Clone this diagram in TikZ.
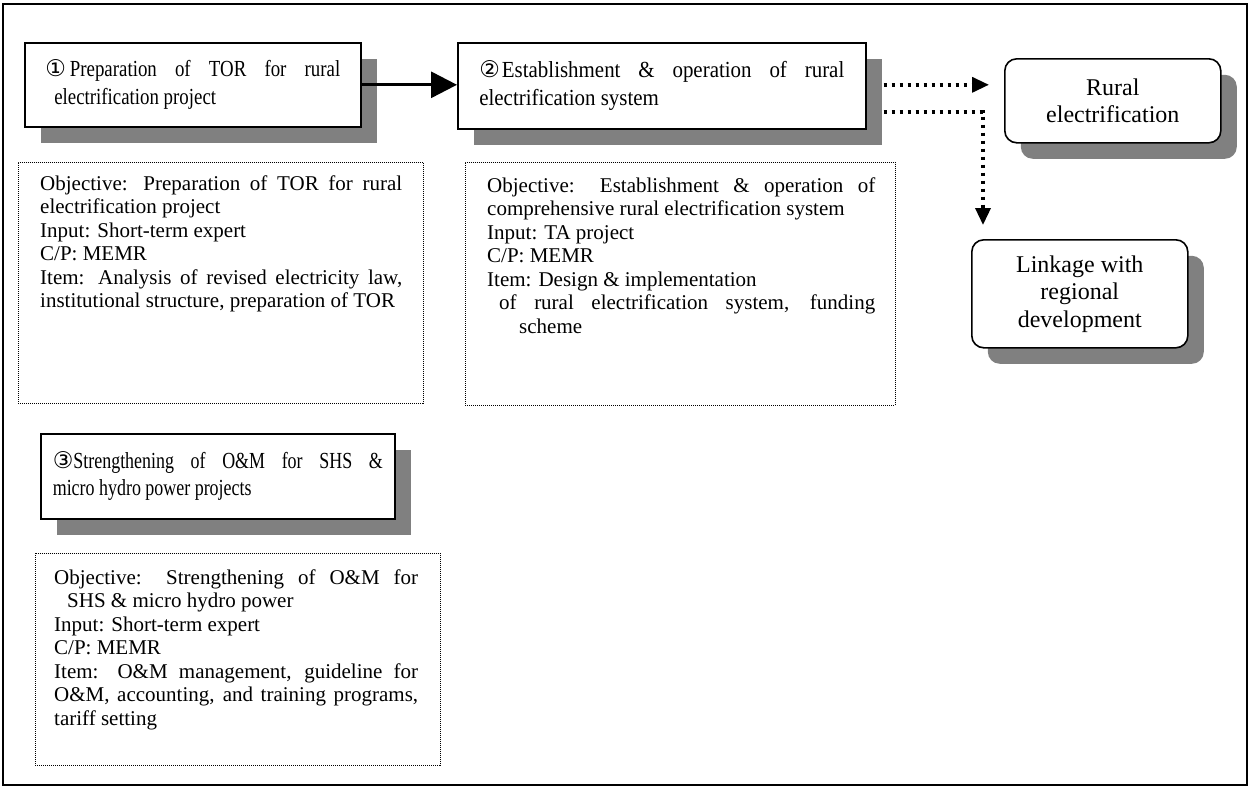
\documentclass[tikz,border=0pt]{standalone}
\usepackage{fontspec}
\setmainfont{Liberation Serif}
\newfontfamily\circfont{DejaVu Sans}
\newfontfamily\narrowA[FakeStretch=0.82]{Liberation Serif}
\newfontfamily\narrowB[FakeStretch=0.91]{Liberation Serif}
\newfontfamily\narrowC[FakeStretch=0.78]{Liberation Serif}
\usetikzlibrary{shadows,arrows.meta}

\definecolor{shadowgray}{gray}{0.5}

% a line stretched to a given width (in pt)
\newcommand\jl[2]{\makebox[#1pt][s]{#2}}
% a block of lines of a given width (in pt), baseline at its first line
\newcommand\lines[2]{\vtop{\hsize=#1pt\parindent=0pt\rightskip=0pt plus 1fil\parfillskip=0pt plus 1fil #2}}
% circled step number
\newcommand\stepno[1]{{\circfont\fontsize{23}{23}\selectfont #1}}

\tikzset{
  x=1pt, y=-1pt,
  hdrbox/.style={draw, line width=1.6pt, fill=white, rectangle, inner sep=0pt, anchor=north west,
    drop shadow={shadow xshift=16pt, shadow yshift=-16pt, fill=shadowgray, opacity=1}},
  endbox/.style={hdrbox, rounded corners=12pt, align=center, font=\fontsize{24}{27.5}\selectfont},
  notebox/.style={draw, line width=0.9pt, dash pattern=on 1pt off 1pt, anchor=north west, inner sep=0pt},
  notetext/.style={anchor=base west, inner sep=0pt, font=\fontsize{21}{23.5}\selectfont},
  flow/.style={line width=3pt, -{Triangle[length=26pt,width=26pt]}},
  dotflow/.style={line width=3.5pt, dash pattern=on 3.5pt off 4.5pt, -{Triangle[length=17pt,width=15pt]}},
}

\begin{document}
\begin{tikzpicture}
\useasboundingbox (0,0) rectangle (1250,788);
\draw[line width=1.8pt] (3,4) rectangle (1247,785);

% project boxes
\node[hdrbox, minimum width=336pt, minimum height=84pt, font=\narrowA\fontsize{23}{28}\selectfont] (b1) at (24,42)
  {\lines{295}{\jl{295}{\stepno{①}\kern4pt Preparation of TOR for rural}\\
   \hspace*{9pt}electrification project}};

\node[hdrbox, minimum width=408pt, minimum height=86pt, font=\narrowB\fontsize{23}{28}\selectfont] (b2) at (457,42)
  {\lines{365}{\jl{365}{\stepno{②}\kern2pt Establishment \& operation of rural}\\
   electrification system}};

\node[hdrbox, minimum width=354pt, minimum height=85pt, font=\narrowC\fontsize{23}{27}\selectfont] (b3) at (40,433)
  {\lines{330}{\jl{330}{\stepno{③}Strengthening of O\&M for SHS \&}\\
   micro hydro power projects}};

% outcomes
\node[endbox, minimum width=216pt, minimum height=84pt] (rural) at (1004,58) {Rural\\electrification};
\node[endbox, minimum width=216pt, minimum height=108pt] (link) at (971,239) {Linkage with\\regional\\development};

% notes
\node[notebox, minimum width=405pt, minimum height=241pt] (n1) at (18,162) {};
\node[notetext] (t1) at ([shift={(22pt,-28pt)}]n1.north west)
  {\lines{362}{\jl{362}{Objective: Preparation of TOR for rural}\\
   electrification project\\
   Input: Short-term expert\\
   C/P: MEMR\\
   \jl{362}{Item: Analysis of revised electricity law,}\\
   institutional structure, preparation of TOR}};

\node[notebox, minimum width=430pt, minimum height=243pt] (n2) at (465,162) {};
\node[notetext] (t2) at ([shift={(22pt,-30pt)}]n2.north west)
  {\lines{388}{\jl{388}{Objective: Establishment \& operation of}\\
   comprehensive rural electrification system\\
   Input: TA project\\
   C/P: MEMR\\
   Item: Design \& implementation\\
   \hspace*{12pt}\jl{376}{of rural electrification system, funding}\\
   \hspace*{32pt}scheme}};

\node[notebox, minimum width=405pt, minimum height=212pt] (n3) at (35,553) {};
\node[notetext] (t3) at ([shift={(19pt,-31pt)}]n3.north west)
  {\lines{364}{\jl{364}{Objective: Strengthening of O\&M for}\\
   \hspace*{13pt}SHS \& micro hydro power\\
   Input: Short-term expert\\
   C/P: MEMR\\
   \jl{364}{Item: O\&M management, guideline for}\\
   \jl{364}{O\&M, accounting, and training programs,}\\
   tariff setting}};

% connectors
\draw[flow] (b1.east) -- (b1.east -| b2.west);
\draw[dotflow, shorten <=17pt, shorten >=15pt] ([yshift=1pt]b2.east) -- ([yshift=1pt]b2.east -| rural.west);
\coordinate (bend) at (983,112);
\draw[dotflow, shorten <=17pt, shorten >=14pt] (b2.east |- bend) -- (bend) -- (bend |- link.north);
\end{tikzpicture}
\end{document}
